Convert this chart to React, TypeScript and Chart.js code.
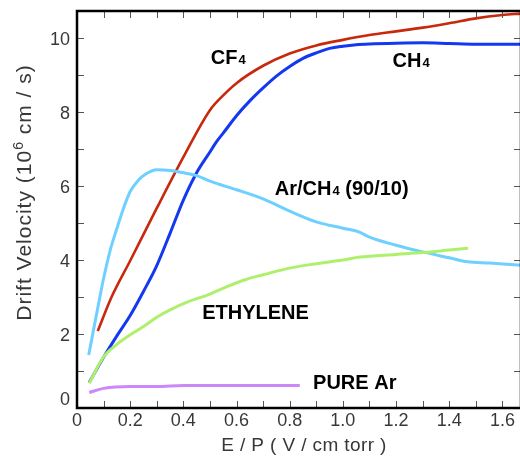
import React, { useEffect, useRef } from "react";
import { Chart, registerables } from "chart.js";
Chart.register(...registerables);

// ---- data (E/P in V/cm torr, drift velocity in 1e6 cm/s) ----
const cf4X = [0.078, 0.13, 0.2, 0.3, 0.4, 0.5, 0.55, 0.6, 0.7, 0.8, 0.9, 1.0, 1.1, 1.2, 1.3, 1.4, 1.5, 1.6, 1.67];
const cf4Y = [2.08, 3.0, 3.98, 5.4, 6.78, 8.05, 8.45, 8.78, 9.25, 9.58, 9.8, 9.95, 10.08, 10.18, 10.28, 10.4, 10.53, 10.62, 10.66];

const ch4X = [0.046, 0.1, 0.15, 0.2, 0.25, 0.3, 0.35, 0.4, 0.45, 0.5, 0.525, 0.55, 0.6, 0.65, 0.7, 0.75, 0.8, 0.85, 0.9, 0.95, 1.0, 1.05, 1.1, 1.2, 1.3, 1.4, 1.5, 1.67];
const ch4Y = [0.69, 1.37, 1.95, 2.5, 3.15, 3.85, 4.72, 5.62, 6.36, 6.92, 7.2, 7.43, 7.9, 8.3, 8.65, 8.97, 9.23, 9.45, 9.6, 9.72, 9.78, 9.82, 9.84, 9.86, 9.87, 9.85, 9.83, 9.83];

const arch4X = [0.044, 0.086, 0.1, 0.125, 0.15, 0.175, 0.2, 0.23, 0.26, 0.3, 0.35, 0.4, 0.45, 0.5, 0.6, 0.7, 0.8, 0.9, 1.0, 1.06, 1.1, 1.2, 1.3, 1.4, 1.47, 1.55, 1.67];
const arch4Y = [1.43, 3.0, 3.5, 4.27, 4.85, 5.4, 5.85, 6.15, 6.33, 6.44, 6.42, 6.36, 6.28, 6.13, 5.9, 5.65, 5.32, 5.03, 4.86, 4.76, 4.62, 4.4, 4.22, 4.06, 3.95, 3.92, 3.86];

const ethX = [0.046, 0.1, 0.15, 0.2, 0.25, 0.3, 0.35, 0.414, 0.5, 0.564, 0.638, 0.7, 0.8, 0.9, 1.0, 1.064, 1.2, 1.3, 1.4, 1.471];
const ethY = [0.67, 1.38, 1.72, 1.98, 2.2, 2.45, 2.65, 2.86, 3.08, 3.28, 3.48, 3.6, 3.78, 3.9, 4.0, 4.08, 4.15, 4.2, 4.27, 4.32];

const arX = [0.046, 0.1, 0.2, 0.3, 0.4, 0.6, 0.838];
const arY = [0.42, 0.53, 0.58, 0.58, 0.61, 0.61, 0.61];

const xTickValues = [0, 0.2, 0.4, 0.6, 0.8, 1.0, 1.2, 1.4, 1.6];
const xTickLabels = ["0", "0.2", "0.4", "0.6", "0.8", "1.0", "1.2", "1.4", "1.6"];
const yTickValues = [0, 2, 4, 6, 8, 10];
const yTickLabels = ["0", "2", "4", "6", "8", "10"];

// annotations: [main, subscript, rest, x, y]
const labels: [string, string, string, number, number][] = [
  ["CF", "4", "", 0.503, 9.29],
  ["CH", "4", "", 1.187, 9.22],
  ["Ar/CH", "4", " (90/10)", 0.744, 5.76],
  ["ETHYLENE", "", "", 0.471, 2.4],
  ["PURE Ar", "", "", 0.888, 0.505],
];

const toPts = (xs: number[], ys: number[]) => xs.map((x, i) => ({ x, y: ys[i] }));

const FONT = '"Liberation Sans", Arial, sans-serif';

const framePlugin = {
  id: "frame",
  afterDatasetsDraw(chart: any) {
    const { ctx, chartArea: a, scales } = chart;
    const xs = scales.x;
    const ys = scales.y;
    ctx.save();
    // inward minor ticks
    ctx.strokeStyle = "#555";
    ctx.lineWidth = 1;
    ctx.beginPath();
    for (let k = 1; k <= 16; k++) {
      const px = Math.round(xs.getPixelForValue(k / 10)) + 0.5;
      ctx.moveTo(px, a.bottom);
      ctx.lineTo(px, a.bottom - 7);
      ctx.moveTo(px, a.top);
      ctx.lineTo(px, a.top + 7);
    }
    for (let k = 1; k <= 10; k++) {
      const py = Math.round(ys.getPixelForValue(k)) + 0.5;
      ctx.moveTo(a.left, py);
      ctx.lineTo(a.left + 7, py);
      ctx.moveTo(a.right, py);
      ctx.lineTo(a.right - 7, py);
    }
    ctx.stroke();
    // frame
    ctx.strokeStyle = "#000";
    ctx.lineWidth = 2.5;
    ctx.strokeRect(a.left, a.top, a.right - a.left, a.bottom - a.top);

    // tick labels
    ctx.fillStyle = "#383838";
    ctx.font = `18px ${FONT}`;
    ctx.textAlign = "center";
    ctx.textBaseline = "alphabetic";
    xTickValues.forEach((v, i) => {
      ctx.fillText(xTickLabels[i], xs.getPixelForValue(v), a.bottom + 18);
    });
    ctx.textAlign = "right";
    yTickValues.forEach((v, i) => {
      const off = v === 0 ? -10 : 0;
      ctx.fillText(yTickLabels[i], a.left - 7, ys.getPixelForValue(v) + 6.5 + off);
    });

    // axis titles
    ctx.font = `19px ${FONT}`;
    (ctx as any).letterSpacing = "0.4px";
    ctx.textAlign = "center";
    ctx.fillText("E / P ( V / cm torr )", (a.left + a.right) / 2 + 5, a.bottom + 43);

    (ctx as any).letterSpacing = "1px";
    const big = `21px ${FONT}`;
    const small = `14px ${FONT}`;
    const p1 = "Drift Velocity (10";
    const p2 = "6";
    const p3 = " cm / s)";
    ctx.font = big;
    const w1 = ctx.measureText(p1).width;
    const w3 = ctx.measureText(p3).width;
    ctx.font = small;
    const w2 = ctx.measureText(p2).width;
    const total = w1 + w2 + w3;
    ctx.translate(31, (a.top + a.bottom) / 2 - 17);
    ctx.rotate(-Math.PI / 2);
    ctx.textAlign = "left";
    let cx = -total / 2;
    ctx.font = big;
    ctx.fillText(p1, cx, 0);
    cx += w1;
    ctx.font = small;
    ctx.fillText(p2, cx, -8);
    cx += w2;
    ctx.font = big;
    ctx.fillText(p3, cx, 0);
    (ctx as any).letterSpacing = "0px";
    ctx.restore();

    // curve labels
    ctx.save();
    ctx.fillStyle = "#000";
    ctx.textAlign = "left";
    ctx.textBaseline = "alphabetic";
    labels.forEach(([m, s, r, vx, vy]) => {
      let px = xs.getPixelForValue(vx);
      const py = ys.getPixelForValue(vy);
      ctx.font = `bold 20px ${FONT}`;
      ctx.fillText(m, px, py);
      px += ctx.measureText(m).width + 1;
      if (s) {
        ctx.font = `bold 13px ${FONT}`;
        ctx.fillText(s, px, py);
        px += ctx.measureText(s).width;
      }
      if (r) {
        ctx.font = `bold 20px ${FONT}`;
        ctx.fillText(r, px, py);
      }
    });
    ctx.restore();
  },
};

export default function App() {
  const ref = useRef<HTMLCanvasElement | null>(null);
  useEffect(() => {
    document.body.style.margin = "0";
    const line = (data: any, color: string, w: number) => ({
      data,
      borderColor: color,
      backgroundColor: color,
      borderWidth: w,
      pointRadius: 0,
      showLine: true,
      fill: false,
      cubicInterpolationMode: "monotone" as const,
    });
    const chart = new Chart(ref.current as HTMLCanvasElement, {
      type: "scatter",
      data: {
        datasets: [
          line(toPts(arX, arY), "#cc88fa", 3),
          line(toPts(ethX, ethY), "#aef06c", 3),
          line(toPts(arch4X, arch4Y), "#6ed0ff", 3),
          line(toPts(ch4X, ch4Y), "#1238f2", 3),
          line(toPts(cf4X, cf4Y), "#c8280c", 2.6),
        ],
      },
      options: {
        animation: false,
        responsive: false,
        devicePixelRatio: 1,
        layout: { padding: { top: 11, right: 9, left: 0, bottom: 0 } },
        plugins: { legend: { display: false }, tooltip: { enabled: false } },
        scales: {
          x: {
            type: "linear",
            min: 0,
            max: 1.67,
            grid: { display: false },
            border: { display: false },
            ticks: { display: false },
            afterFit: (s: any) => {
              s.height = 49;
            },
          },
          y: {
            type: "linear",
            min: 0,
            max: 10.73,
            grid: { display: false },
            border: { display: false },
            ticks: { display: false },
            afterFit: (s: any) => {
              s.width = 77;
            },
          },
        },
      },
      plugins: [framePlugin],
    });
    return () => chart.destroy();
  }, []);
  return (
    <div style={{ width: 520, height: 457, overflow: "hidden", background: "#fff" }}>
      <canvas ref={ref} width={530} height={457} style={{ display: "block" }} />
    </div>
  );
}
